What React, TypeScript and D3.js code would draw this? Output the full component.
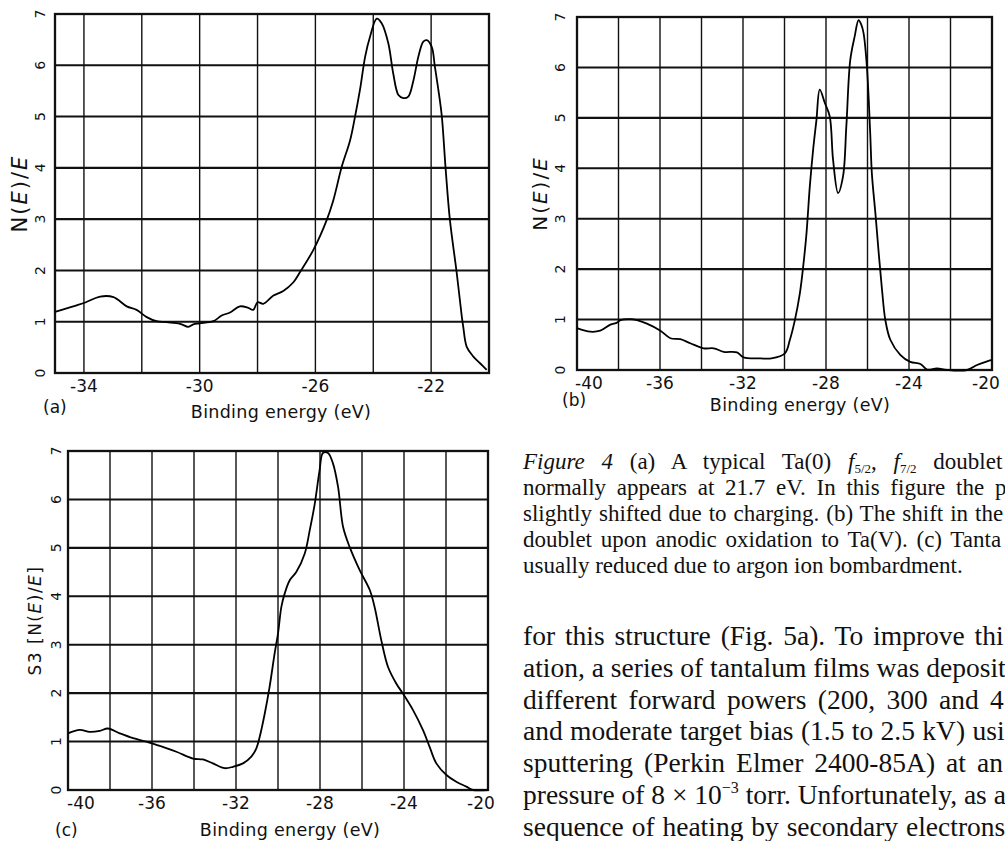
import React from "react";
import * as d3 from "d3";

// (a) Ta(0) doublet, binding energy (eV) vs N(E)/E
const aEnergy = [-35, -34.6, -34.25, -33.93, -33.44, -32.98, -32.52, -32.18, -31.83, -31.49, -31.14, -30.68, -30.39, -30.22, -30.0, -29.53, -29.24, -28.95, -28.61, -28.32, -28.15, -28.0, -27.8, -27.45, -27.11, -26.76, -26.53, -26.07, -25.61, -25.38, -25.09, -24.8, -24.63, -24.46, -24.28, -24.11, -23.88, -23.71, -23.48, -23.31, -23.13, -22.96, -22.79, -22.61, -22.44, -22.27, -22.15, -21.98, -21.87, -21.75, -21.63, -21.5, -21.35, -21.12, -20.94, -20.89, -20.77, -20.54, -20.31, -20.08];
const aSignal = [1.19, 1.26, 1.32, 1.38, 1.49, 1.48, 1.3, 1.23, 1.09, 1.01, 0.99, 0.96, 0.9, 0.95, 0.97, 1.01, 1.12, 1.18, 1.3, 1.27, 1.23, 1.38, 1.35, 1.51, 1.6, 1.77, 1.97, 2.4, 2.98, 3.37, 4.02, 4.54, 5.0, 5.52, 6.17, 6.56, 6.91, 6.82, 6.43, 5.84, 5.42, 5.36, 5.39, 5.71, 6.17, 6.46, 6.49, 6.36, 5.97, 5.52, 5.0, 3.99, 2.98, 1.97, 1.1, 0.9, 0.51, 0.32, 0.19, 0.06];

// (b) after anodic oxidation to Ta(V)
const bEnergy = [-40, -39.36, -38.88, -38.39, -38.07, -37.91, -37.43, -37.11, -36.63, -35.98, -35.5, -35.02, -34.54, -33.9, -33.41, -32.93, -32.29, -31.97, -31.16, -30.63, -29.98, -29.74, -29.5, -29.26, -29.1, -28.94, -28.78, -28.62, -28.46, -28.3, -28.06, -27.82, -27.66, -27.42, -27.18, -27.02, -26.83, -26.62, -26.43, -26.3, -26.19, -26.03, -25.87, -25.79, -25.62, -25.46, -25.3, -25.14, -24.9, -24.42, -23.94, -23.45, -23.13, -22.65, -22.17, -21.2, -20.72, -20.24, -20];
const bSignal = [0.83, 0.76, 0.78, 0.9, 0.94, 0.99, 1.01, 0.99, 0.92, 0.78, 0.63, 0.61, 0.53, 0.43, 0.43, 0.36, 0.35, 0.25, 0.23, 0.23, 0.33, 0.6, 0.99, 1.52, 2.05, 2.71, 3.64, 4.37, 4.96, 5.56, 5.3, 5.03, 4.17, 3.51, 3.84, 4.83, 6.15, 6.61, 6.94, 6.85, 6.68, 6.02, 4.7, 3.9, 3.11, 2.32, 1.59, 0.99, 0.6, 0.3, 0.16, 0.12, 0.01, 0.03, 0, 0, 0.1, 0.17, 0.2];

// (c) reduced by argon ion bombardment
const cEnergy = [-40, -39.44, -38.97, -38.49, -38.1, -37.54, -36.9, -36.27, -35.63, -34.84, -34.05, -33.57, -33.1, -32.54, -32.14, -31.67, -31.27, -31.03, -30.87, -30.63, -30.4, -30.16, -30.0, -29.84, -29.68, -29.44, -29.13, -28.73, -28.49, -28.25, -28.02, -27.86, -27.62, -27.38, -27.14, -26.9, -26.59, -26.11, -25.63, -25.4, -25.08, -24.76, -24.37, -24.05, -23.57, -23.1, -22.78, -22.46, -21.98, -21.51, -21.03, -20.71, -20];
const cSignal = [1.17, 1.24, 1.2, 1.22, 1.27, 1.17, 1.07, 1.0, 0.91, 0.79, 0.65, 0.63, 0.55, 0.45, 0.48, 0.55, 0.69, 0.86, 1.1, 1.58, 2.13, 2.82, 3.23, 3.78, 4.06, 4.33, 4.5, 4.88, 5.36, 5.91, 6.6, 6.96, 6.96, 6.74, 6.26, 5.43, 5.02, 4.54, 4.13, 3.78, 3.09, 2.54, 2.2, 1.99, 1.65, 1.24, 0.89, 0.55, 0.31, 0.17, 0.07, 0, 0];

const aTicks = [-34, -30, -26, -22];
const bcTicks = [-40, -36, -32, -28, -24, -20];
const yTicks = [0, 1, 2, 3, 4, 5, 6, 7];

const captionLines = [
  "normally appears at 21.7 eV. In this figure the p",
  "slightly shifted due to charging. (b) The shift in the",
  "doublet upon anodic oxidation to Ta(V). (c) Tanta",
  "usually reduced due to argon ion bombardment.",
];
const captionSpacing = [5, 1.2, 3, 0];
const bodyLines = [
  "for this structure (Fig. 5a). To improve thi",
  "ation, a series of tantalum films was deposit",
  "different forward powers (200, 300 and 4",
  "and moderate target bias (1.5 to 2.5 kV) usi",
  "sputtering (Perkin Elmer 2400-85A) at an",
  null, // pressure line, has a superscript
  "sequence of heating by secondary electrons",
];
const bodySpacing = [3, 0, 4.5, 0.5, 4.2, 0, 1];

const SANS = "'DejaVu Sans', sans-serif";
const SERIF = "'Liberation Serif', 'Times New Roman', serif";

type PanelProps = {
  left: number;
  right: number;
  top: number;
  bottom: number;
  domain: [number, number];
  energy: number[];
  signal: number[];
  ticks: number[];
  edge: [number, number];
  tag: string;
  tagX: number;
  tagY: number;
  titleX: number;
  titleY: number;
  yLabelX: number;
  yTitleX: number;
  yTitleSize: number;
  yTitleSpacing: number;
  yTitle: React.ReactNode;
};

function Panel(p: PanelProps) {
  const x = d3.scaleLinear().domain(p.domain).range([p.left, p.right]);
  const y = d3.scaleLinear().domain([0, 7]).range([p.bottom, p.top]);
  const vGrid = d3
    .range(Math.ceil(p.domain[0] / 2) * 2, p.domain[1], 2)
    .filter((v) => v > p.domain[0] && v < p.domain[1]);
  const hGrid = yTicks.filter((v) => v > 0 && v < 7);
  const line = d3
    .line<number>()
    .x((_, i) => x(p.energy[i]))
    .y((d) => y(d))
    .curve(d3.curveCatmullRom.alpha(0.5));

  return (
    <g>
      {vGrid.map((v) => (
        <line key={"v" + v} x1={x(v)} x2={x(v)} y1={p.top} y2={p.bottom} stroke="#111" strokeWidth={1.4} />
      ))}
      {hGrid.map((v) => (
        <line key={"h" + v} x1={p.left} x2={p.right} y1={y(v)} y2={y(v)} stroke="#111" strokeWidth={2.1} />
      ))}
      <rect x={p.left} y={p.top} width={p.right - p.left} height={p.bottom - p.top} fill="none" stroke="#111" strokeWidth={2.3} />
      <path d={line(p.signal) || ""} fill="none" stroke="#000" strokeWidth={1.8} strokeLinejoin="round" />

      {p.ticks.map((v) => {
        const dx = v === p.domain[0] ? p.edge[0] : v === p.domain[1] ? p.edge[1] : 0;
        return (
          <text key={"t" + v} x={x(v) + dx} y={p.bottom + 19} textAnchor="middle" fontFamily={SANS} fontSize={17} fill="#111">
            {String(v)}
          </text>
        );
      })}
      {yTicks.map((v) => (
        <text
          key={"y" + v}
          transform={`translate(${p.yLabelX},${y(v)}) rotate(-90)`}
          textAnchor="middle"
          dominantBaseline="central"
          fontFamily={SANS}
          fontSize={14}
          fill="#111"
        >
          {v}
        </text>
      ))}
      <text
        transform={`translate(${p.yTitleX},${(p.top + p.bottom) / 2}) rotate(-90)`}
        textAnchor="middle"
        dominantBaseline="central"
        fontFamily={SANS}
        fontSize={p.yTitleSize}
        letterSpacing={p.yTitleSpacing}
        fill="#111"
      >
        {p.yTitle}
      </text>
      <text x={p.tagX} y={p.tagY} fontFamily={SANS} fontSize={17} fill="#111">
        {p.tag}
      </text>
      <text x={p.titleX} y={p.titleY} textAnchor="middle" fontFamily={SANS} fontSize={17.5} letterSpacing={0.3} fill="#111">
        Binding energy (eV)
      </text>
    </g>
  );
}

const nTitle = (
  <>
    N(<tspan fontStyle="italic">E</tspan>)/<tspan fontStyle="italic">E</tspan>
  </>
);

export default function App() {
  return (
    <div style={{ position: "absolute", left: 0, top: 0 }}>
      <svg width={1005} height={841} style={{ display: "block", background: "#fff" }}>
        <Panel
          left={55} right={489} top={14} bottom={373}
          domain={[-35, -20]} energy={aEnergy} signal={aSignal} ticks={aTicks} edge={[0, 0]}
          tag="(a)" tagX={43} tagY={413} titleX={281} titleY={418}
          yLabelX={40} yTitleX={20} yTitleSize={21} yTitleSpacing={2} yTitle={nTitle}
        />
        <Panel
          left={577} right={992} top={17} bottom={370}
          domain={[-40, -20]} energy={bEnergy} signal={bSignal} ticks={bcTicks} edge={[12, -6]}
          tag="(b)" tagX={562} tagY={406} titleX={800} titleY={411}
          yLabelX={560} yTitleX={540} yTitleSize={20} yTitleSpacing={2} yTitle={nTitle}
        />
        <Panel
          left={68} right={488} top={451} bottom={790}
          domain={[-40, -20]} energy={cEnergy} signal={cSignal} ticks={bcTicks} edge={[13, -7]}
          tag="(c)" tagX={55} tagY={836} titleX={290} titleY={836}
          yLabelX={56} yTitleX={35} yTitleSize={17} yTitleSpacing={1.5}
          yTitle={<>S3 [{nTitle}]</>}
        />

        <g fontFamily={SERIF} fontSize={23} fill="#111">
          <text x={523} y={469} wordSpacing={11}>
            <tspan fontStyle="italic">Figure 4</tspan> (a) A typical Ta(0){" "}
            <tspan fontStyle="italic">f</tspan>
            <tspan fontSize={13} dy={4}>5/2</tspan>
            <tspan dy={-4}>, </tspan>
            <tspan fontStyle="italic">f</tspan>
            <tspan fontSize={13} dy={4}>7/2</tspan>
            <tspan dy={-4}> doublet</tspan>
          </text>
          {captionLines.map((t, i) => (
            <text key={i} x={523} y={495 + i * 26} wordSpacing={captionSpacing[i]}>
              {t}
            </text>
          ))}
        </g>
        <g fontFamily={SERIF} fontSize={27.5} fill="#111">
          {bodyLines.map((t, i) =>
            t === null ? (
              <text key={i} x={523} y={645 + i * 31.8} wordSpacing={bodySpacing[i]}>
                pressure of 8 × 10<tspan fontSize={16} dy={-11}>−3</tspan>
                <tspan dy={11}> torr. Unfortunately, as a</tspan>
              </text>
            ) : (
              <text key={i} x={523} y={645 + i * 31.8} wordSpacing={bodySpacing[i]}>
                {t}
              </text>
            )
          )}
        </g>
      </svg>
    </div>
  );
}
